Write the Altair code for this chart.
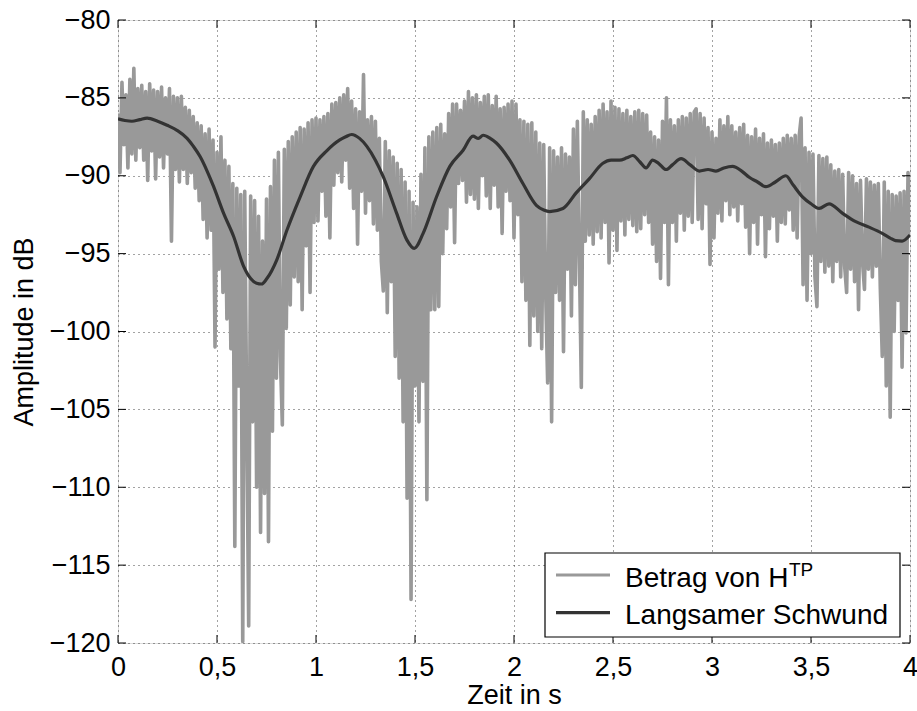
import altair as alt
import pandas as pd

W, H = 792, 623

x_ticks = [0, 0.5, 1, 1.5, 2, 2.5, 3, 3.5, 4]
y_ticks = [-120, -115, -110, -105, -100, -95, -90, -85, -80]

grey_vals = [
    -86.0, -89.8, -84.0, -88.0, -84.8, -89.5, -83.8, -88.6, -83.1, -89.0,
    -84.4, -88.2, -84.2, -89.0, -84.6, -90.3, -84.1, -88.4, -84.5, -90.2,
    -84.6, -88.8, -84.3, -89.5, -85.0, -88.6, -84.4, -94.2, -84.9, -89.6,
    -85.0, -90.4, -84.9, -89.6, -85.6, -90.5, -85.8, -89.8, -86.2, -90.8,
    -86.6, -91.6, -86.8, -92.8, -87.3, -94.0, -87.0, -93.5, -87.7, -101.0,
    -88.5, -96.0, -87.5, -97.5, -89.0, -99.2, -89.4, -101.1, -90.5, -113.8,
    -90.8, -103.5, -91.2, -119.9, -91.0, -105.2, -118.9, -91.3, -105.8, -91.6,
    -110.0, -92.6, -112.9, -94.2, -110.4, -91.5, -113.5, -90.7, -106.4, -89.0,
    -103.0, -88.5, -101.6, -106.0, -88.3, -99.8, -87.8, -98.3, -87.5, -96.5,
    -87.2, -96.8, -86.9, -98.6, -87.0, -94.5, -86.6, -97.5, -86.4, -93.0,
    -86.3, -92.9, -86.4, -91.0, -86.2, -92.6, -86.0, -94.0, -85.4, -90.6,
    -85.3, -89.8, -85.0, -90.4, -84.8, -89.0, -84.4, -90.8, -85.2, -92.1,
    -85.7, -94.4, -85.9, -91.0, -83.5, -92.4, -86.4, -91.6, -86.2, -93.1,
    -86.5, -93.5, -87.6, -95.5, -97.4, -87.8, -98.8, -88.4, -96.8, -88.8,
    -101.6, -89.2, -103.0, -89.6, -105.8, -90.4, -110.7, -91.0, -117.2, -91.7,
    -103.5, -92.0, -105.8, -89.9, -103.2, -88.2, -110.8, -87.5, -98.6, -87.2,
    -98.6, -86.9, -98.4, -86.7, -95.0, -87.3, -93.4, -86.0, -92.0, -85.4,
    -94.3, -85.4, -90.5, -85.8, -90.3, -85.2, -91.7, -84.6, -91.2, -85.0,
    -91.5, -84.8, -92.1, -85.3, -90.0, -84.9, -91.3, -84.8, -92.1, -85.5,
    -90.6, -84.9, -92.0, -85.7, -93.7, -85.6, -91.0, -85.4, -91.6, -85.2,
    -94.0, -85.4, -92.5, -86.4, -96.8, -86.5, -98.0, -86.7, -100.9, -86.6,
    -99.0, -87.2, -100.0, -87.9, -101.1, -88.0, -97.5, -103.3, -88.2, -105.8,
    -88.4, -97.5, -88.8, -98.0, -88.2, -101.3, -88.6, -96.0, -88.8, -99.0,
    -87.0, -97.0, -86.5, -95.0, -103.6, -85.9, -94.2, -86.4, -93.8, -86.7,
    -94.4, -86.2, -93.6, -85.8, -94.0, -85.4, -93.0, -85.9, -95.6, -85.2,
    -93.5, -85.6, -94.8, -85.7, -92.9, -86.0, -93.8, -85.8, -92.8, -86.2,
    -93.2, -85.9, -93.6, -85.8, -93.4, -86.0, -92.5, -86.1, -93.0, -87.2,
    -94.4, -87.5, -95.5, -87.7, -96.6, -86.5, -93.0, -85.0, -97.0, -86.4,
    -93.0, -86.8, -94.2, -86.4, -92.4, -86.2, -93.5, -86.3, -92.6, -86.0,
    -93.0, -85.9, -85.7, -92.8, -86.0, -93.4, -86.3, -91.8, -86.9, -95.7,
    -87.2, -94.0, -87.6, -92.4, -86.4, -92.9, -86.8, -91.6, -86.2, -92.5,
    -86.8, -92.0, -87.2, -92.9, -86.9, -91.8, -86.7, -93.3, -87.4, -95.0,
    -87.5, -93.0, -87.0, -94.4, -87.6, -92.5, -87.3, -95.2, -87.9, -93.4,
    -87.7, -92.6, -88.0, -94.2, -87.9, -93.0, -87.6, -93.1, -87.4, -92.2,
    -87.6, -93.5, -87.4, -94.0, -87.5, -86.3, -97.0, -88.2, -98.0, -88.5,
    -95.0, -88.6, -96.5, -98.4, -88.7, -95.5, -88.9, -96.2, -88.8, -95.8,
    -89.3, -96.8, -89.7, -95.5, -89.6, -96.5, -89.9, -95.8, -97.5, -89.8,
    -96.0, -90.0, -96.8, -90.5, -98.6, -90.3, -95.5, -97.3, -90.2, -96.0,
    -90.4, -96.5, -90.6, -95.8, -90.5, -97.2, -101.6, -90.4, -103.5, -91.0,
    -105.5, -91.2, -100.0, -91.3, -98.0, -91.1, -102.3, -91.0, -100.1, -89.8,
    -93.8,
]
grey_t = [round(i * 0.01, 2) for i in range(len(grey_vals))]

# slow fading curve
slow_t = [0.0, 0.035, 0.07, 0.11, 0.147, 0.2, 0.248, 0.3, 0.349, 0.38, 0.416,
          0.45, 0.483, 0.533, 0.584, 0.634, 0.67, 0.70, 0.725, 0.752, 0.802,
          0.853, 0.92, 0.987, 1.054, 1.12, 1.15, 1.18, 1.22, 1.256, 1.30, 1.34,
          1.407, 1.458, 1.496, 1.541, 1.609, 1.676, 1.743, 1.793, 1.82, 1.844,
          1.88, 1.911, 1.978, 2.045, 2.113, 2.15, 2.18, 2.247, 2.314, 2.38,
          2.449, 2.49, 2.533, 2.57, 2.6, 2.635, 2.667, 2.70, 2.73, 2.768, 2.80,
          2.844, 2.89, 2.936, 2.98, 3.02, 3.06, 3.104, 3.15, 3.188, 3.23, 3.272,
          3.32, 3.373, 3.41, 3.457, 3.50, 3.541, 3.591, 3.658, 3.726, 3.793,
          3.86, 3.9, 3.927, 3.96, 4.0]
slow_v = [-86.35, -86.45, -86.5, -86.4, -86.3, -86.5, -86.76, -87.1, -87.6,
          -88.1, -88.8, -89.7, -90.7, -92.4, -93.9, -95.8, -96.6, -96.9, -96.95,
          -96.6, -95.4, -93.5, -91.35, -89.4, -88.4, -87.7, -87.5, -87.35, -87.6,
          -88.1, -89.0, -90.07, -92.4, -94.1, -94.66, -93.7, -91.35, -89.4,
          -88.36, -87.46, -87.6, -87.4, -87.6, -87.9, -89.0, -90.5, -91.9, -92.2,
          -92.3, -92.1, -91.1, -90.2, -89.2, -89.0, -89.0, -88.85, -88.7, -89.1,
          -89.5, -89.0, -89.2, -89.6, -89.3, -88.9, -89.3, -89.7, -89.6, -89.7,
          -89.5, -89.4, -89.7, -90.1, -90.4, -90.7, -90.4, -90.0, -90.6, -91.35,
          -91.8, -92.1, -91.8, -92.4, -92.95, -93.3, -93.7, -94.0, -94.17, -94.2,
          -93.8]

legend_labels = ["Betrag von H", "Langsamer Schwund"]
legend_sup = "TP"
legend_colors = ["#999999", "#333333"]

FONT = "Liberation Sans"

df_grey = pd.DataFrame({"t": grey_t, "v": grey_vals})
df_slow = pd.DataFrame({"t": slow_t, "v": slow_v})
df_xt = pd.DataFrame({"t": x_ticks})
df_yt = pd.DataFrame({"v": y_ticks})

xscale = alt.Scale(domain=[0, 4], nice=False, zero=False)
yscale = alt.Scale(domain=[-120, -80], nice=False, zero=False)

x_axis = alt.Axis(values=x_ticks, title="Zeit in s",
                  labelExpr="replace(toString(datum.value), '.', ',')",
                  grid=True, gridDash=[1, 4], gridColor="#333333", gridOpacity=0.9,
                  ticks=False, domain=False, labelPadding=11, labelFontSize=27,
                  titleFontSize=27, titleFontWeight="normal", titlePadding=2,
                  labelFlush=False, labelOverlap=False, labelColor="black",
                  titleColor="black", labelFont=FONT, titleFont=FONT)
y_axis = alt.Axis(values=y_ticks, title="Amplitude in dB",
                  grid=True, gridDash=[1, 4], gridColor="#333333", gridOpacity=0.9,
                  ticks=False, domain=False, labelPadding=8, labelFontSize=27,
                  titleFontSize=27, titleFontWeight="normal", titlePadding=11,
                  labelFlush=False, labelOverlap=False, labelColor="black",
                  titleColor="black", labelFont=FONT, titleFont=FONT)

X = alt.X("t:Q", scale=xscale, axis=x_axis)
Y = alt.Y("v:Q", scale=yscale, axis=y_axis)

grey = alt.Chart(df_grey).mark_line(color=legend_colors[0], strokeWidth=3.6,
                                    clip=True, strokeJoin="round").encode(x=X, y=Y)
slow = alt.Chart(df_slow).mark_line(color=legend_colors[1], strokeWidth=3.2,
                                    clip=True, interpolate="monotone").encode(x=X, y=Y)

TL = 8
tick_b = alt.Chart(df_xt).mark_rule(color="black", strokeWidth=1).encode(
    x=X, y=alt.value(H - TL), y2=alt.value(H))
tick_t = alt.Chart(df_xt).mark_rule(color="black", strokeWidth=1).encode(
    x=X, y=alt.value(0), y2=alt.value(TL))
tick_l = alt.Chart(df_yt).mark_rule(color="black", strokeWidth=1).encode(
    y=Y, x=alt.value(0), x2=alt.value(TL))
tick_r = alt.Chart(df_yt).mark_rule(color="black", strokeWidth=1).encode(
    y=Y, x=alt.value(W - TL), x2=alt.value(W))

one = pd.DataFrame({"k": [0]})
# legend box
LX0, LX1, LY0, LY1 = 427, 782, 533, 617
leg_box = alt.Chart(one).mark_rect(fill="white", stroke="black", strokeWidth=1.2).encode(
    x=alt.value(LX0), x2=alt.value(LX1), y=alt.value(LY0), y2=alt.value(LY1))
line_y = [555, 592.7]
text_y = [567.3, 604]
leg_layers = [leg_box]
for i in range(2):
    leg_layers.append(
        alt.Chart(one).mark_rule(color=legend_colors[i], strokeWidth=3.2).encode(
            x=alt.value(438), x2=alt.value(492), y=alt.value(line_y[i])))
    leg_layers.append(
        alt.Chart(one).mark_text(align="left", baseline="alphabetic", fontSize=28,
                                 font=FONT, color="black").encode(
            x=alt.value(507), y=alt.value(text_y[i]),
            text=alt.value(legend_labels[i])))
leg_layers.append(
    alt.Chart(one).mark_text(align="left", baseline="alphabetic", fontSize=19,
                             font=FONT, color="black").encode(
        x=alt.value(671), y=alt.value(556), text=alt.value(legend_sup)))

chart = alt.layer(grey, slow, tick_b, tick_t, tick_l, tick_r, *leg_layers).properties(
    width=W, height=H,
    autosize="none",
    padding={"left": 118, "top": 20, "right": 7, "bottom": 68},
    background="white",
).configure_view(stroke="black", strokeWidth=1.3).configure(font=FONT)

chart.save("out.html", embed_options={"renderer": "svg", "actions": False})
